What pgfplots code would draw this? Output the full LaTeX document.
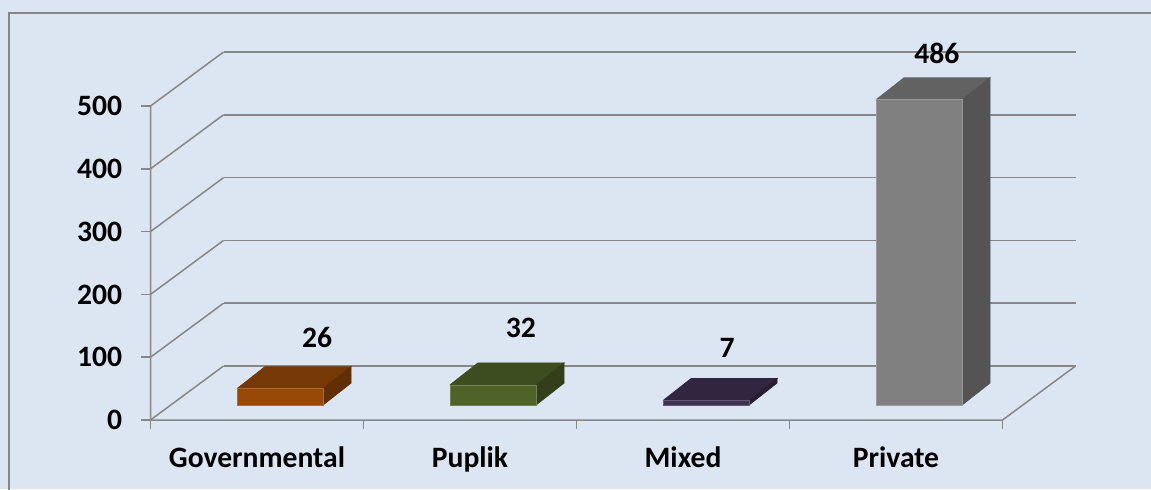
\documentclass[border=0pt]{standalone}
\usepackage{pgfplots}
\pgfplotsset{compat=1.18}
\usepackage{fontspec}
\setmainfont{Carlito}
\definecolor{bg}{HTML}{DCE6F2}
\definecolor{gridc}{HTML}{878787}
\definecolor{govF}{HTML}{984807}
\definecolor{govT}{HTML}{773807}
\definecolor{govS}{HTML}{622E05}
\definecolor{pubF}{HTML}{4F6228}
\definecolor{pubT}{HTML}{3E4D1F}
\definecolor{pubS}{HTML}{333F19}
\definecolor{mixF}{HTML}{3F3151}
\definecolor{mixT}{HTML}{31253F}
\definecolor{mixS}{HTML}{281E34}
\definecolor{priF}{HTML}{808080}
\definecolor{priT}{HTML}{626262}
\definecolor{priS}{HTML}{545454}
\newcommand\lblfont{\fontsize{14.8}{17}\selectfont\bfseries}
% one 3D bar: #1 category, #2 value, #3 front, #4 top, #5 side colour
\newcommand\drawbar[5]{%
  \pgfmathsetmacro\xl{#1-0.0939}%
  \pgfmathsetmacro\xr{#1+0.3099}%
  \pgfmathsetmacro\xlb{#1-0.0939+0.1315}%
  \pgfmathsetmacro\xrb{#1+0.3099+0.1315}%
  \pgfmathsetmacro\yt{23.9+#2}%
  \pgfmathsetmacro\ytb{23.9+#2+35}%
  \addplot[fill=#4, draw=#4, line width=0.4pt] coordinates {(\xl,\yt) (\xr,\yt) (\xrb,\ytb) (\xlb,\ytb) (\xl,\yt)};
  \addplot[fill=#5, draw=#5, line width=0.4pt] coordinates {(\xr,23.9) (\xrb,58.9) (\xrb,\ytb) (\xr,\yt) (\xr,23.9)};
  \addplot[fill=#3, draw=#3!80!white, line width=0.4pt] coordinates {(\xl,23.9) (\xr,23.9) (\xr,\yt) (\xl,\yt) (\xl,23.9)};
}
\begin{document}
\begin{tikzpicture}
\useasboundingbox (0,0) rectangle (575.5pt,244.5pt);
\clip (0,0) rectangle (575.5pt,244.5pt);
\fill[bg] (0,0) rectangle (575.5pt,244.5pt);
\draw[gridc, line width=0.75pt] (4.5pt,-20pt) -- (4.5pt,238pt) -- (600pt,238pt);
\begin{axis}[
  at={(75.25pt,34.5pt)}, anchor=south west,
  x=106.5pt, y=0.314pt,
  xmin=-0.5, xmax=3.843, ymin=0, ymax=586,
  clip=false,
  axis x line*=bottom, axis y line*=left,
  axis line style={draw=none},
  tick align=outside,
  major tick length=4.5pt, minor tick length=4.5pt,
  ytick={0,100,200,300,400,500},
  ytick style={draw=gridc, line width=0.75pt},
  xtick={0,1,2,3},
  xticklabels={Governmental,Puplik,Mixed,Private},
  major x tick style={draw=none},
  minor xtick={-0.5,0.5,1.5,2.5,3.5},
  minor x tick style={draw=gridc, line width=0.75pt},
  /pgf/number format/assume math mode=true,
  tick label style={font=\lblfont},
  yticklabel style={inner sep=0pt, xshift=-9.5pt},
  xticklabel style={anchor=base, yshift=-19pt},
]
% back wall gridlines
\addplot[gridc, line width=0.75pt] coordinates {(-0.157,86) (3.843,86)};
\addplot[gridc, line width=0.75pt] coordinates {(-0.157,186) (3.843,186)};
\addplot[gridc, line width=0.75pt] coordinates {(-0.157,286) (3.843,286)};
\addplot[gridc, line width=0.75pt] coordinates {(-0.157,386) (3.843,386)};
\addplot[gridc, line width=0.75pt] coordinates {(-0.157,486) (3.843,486)};
\addplot[gridc, line width=0.75pt] coordinates {(-0.157,586) (3.843,586)};
% side wall gridlines
\addplot[gridc, line width=0.75pt] coordinates {(-0.5,0) (-0.157,86)};
\addplot[gridc, line width=0.75pt] coordinates {(-0.5,100) (-0.157,186)};
\addplot[gridc, line width=0.75pt] coordinates {(-0.5,200) (-0.157,286)};
\addplot[gridc, line width=0.75pt] coordinates {(-0.5,300) (-0.157,386)};
\addplot[gridc, line width=0.75pt] coordinates {(-0.5,400) (-0.157,486)};
\addplot[gridc, line width=0.75pt] coordinates {(-0.5,500) (-0.157,586)};
% front axes and floor
\addplot[gridc, line width=0.75pt] coordinates {(-0.5,500) (-0.5,0) (3.5,0) (3.843,86)};
% bars
\drawbar{0}{26}{govF}{govT}{govS}
\drawbar{1}{32}{pubF}{pubT}{pubS}
\drawbar{2}{7}{mixF}{mixT}{mixS}
\drawbar{3}{486}{priF}{priT}{priS}
% value labels
\node[font=\lblfont] at (axis cs:0.282,132) {26};
\node[font=\lblfont] at (axis cs:1.239,146) {32};
\node[font=\lblfont] at (axis cs:2.207,115) {7};
\node[font=\lblfont] at (axis cs:3.192,584) {486};
\end{axis}
\end{tikzpicture}
\end{document}
